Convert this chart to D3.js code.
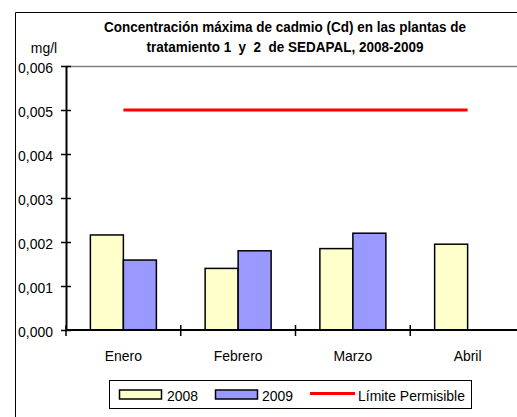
<!DOCTYPE html>
<html><head><meta charset="utf-8">
<script src="https://cdn.jsdelivr.net/npm/d3@7"></script>
<style>body{margin:0;background:#fff;} svg{display:block;} text{white-space:pre;}</style>
</head><body>
<svg id="c" width="517" height="417"></svg>
<script>
const categories = ["Enero", "Febrero", "Marzo", "Abril"];
const series2008 = [0.00216, 0.0014, 0.00185, 0.00195];
const series2009 = [0.00159, 0.0018, 0.0022, null];
const limite = [0.005, 0.005, 0.005, 0.005];
const yTicks = [0, 0.001, 0.002, 0.003, 0.004, 0.005, 0.006];
const seriesNames = ["2008", "2009", "Límite Permisible"];
const colors = {"2008": "#ffffcc", "2009": "#9999ff", lim: "#ff0000"};
const titleLines = ["Concentración máxima de cadmio (Cd) en las plantas de", "tratamiento 1  y  2  de SEDAPAL, 2008-2009"];

(function () {
const svg = d3.select("#c");
const font = "'Liberation Sans',Arial,sans-serif";
const pL = 66, pR = 525, pT = 66, pB = 330;
const K = 0.93;
function squeeze(sel) {
  sel.each(function () {
    const w = this.getComputedTextLength();
    d3.select(this).attr("textLength", w * K).attr("lengthAdjust", "spacingAndGlyphs");
  });
  return sel;
}

// outer border
svg.append("path").attr("d", "M15.5,417 V12.5 H517").attr("fill", "none").attr("stroke", "#000").attr("stroke-width", 1);

const x0 = d3.scaleBand().domain(categories).range([pL, pR]);
const y = d3.scaleLinear().domain([0, 0.006]).range([pB, pT]);

// top plot border (grey)
svg.append("line").attr("x1", pL).attr("x2", 517).attr("y1", pT + 0.5).attr("y2", pT + 0.5).attr("stroke", "#808080").attr("stroke-width", 1.5);

// bars
const bw = 33;
const g = svg.append("g");
categories.forEach((c, i) => {
  const cx = x0(c) + x0.bandwidth() / 2;
  if (series2008[i] != null) g.append("rect").attr("x", cx - bw).attr("y", y(series2008[i])).attr("width", bw).attr("height", y(0) - y(series2008[i])).attr("fill", colors["2008"]).attr("stroke", "#000").attr("stroke-width", 1.5);
  if (series2009[i] != null) g.append("rect").attr("x", cx).attr("y", y(series2009[i])).attr("width", bw).attr("height", y(0) - y(series2009[i])).attr("fill", colors["2009"]).attr("stroke", "#000").attr("stroke-width", 1.5);
});

// limit line
const line = d3.line().x((d, i) => x0(categories[i]) + x0.bandwidth() / 2).y(d => y(d));
svg.append("path").attr("d", line(limite)).attr("fill", "none").attr("stroke", colors.lim).attr("stroke-width", 3);

// y axis
const yAxis = d3.axisLeft(y).tickValues(yTicks).tickFormat(d => d3.format(".3f")(d).replace(".", ",")).tickSizeInner(5).tickSizeOuter(0).tickPadding(6);
const ya = svg.append("g").attr("transform", `translate(${pL},0)`).call(yAxis);
ya.select(".domain").attr("stroke-width", 2);
ya.selectAll(".tick line").attr("x2", 5).attr("x1", -5).attr("stroke-width", 1.5);
ya.selectAll("text").attr("font-family", font).attr("font-size", 15).attr("fill", "#000").attr("x", -13).attr("dy", null).attr("y", 6.5);
squeeze(ya.selectAll("text"));

// x axis
svg.append("line").attr("x1", pL).attr("x2", 517).attr("y1", pB).attr("y2", pB).attr("stroke", "#000").attr("stroke-width", 2);
categories.forEach(c => {
  const xx = x0(c);
  svg.append("line").attr("x1", xx).attr("x2", xx).attr("y1", pB - 5).attr("y2", pB + 6).attr("stroke", "#000").attr("stroke-width", 1.5);
  squeeze(svg.append("text").attr("x", xx + x0.bandwidth() / 2).attr("y", 361).attr("text-anchor", "middle").attr("font-family", font).attr("font-size", 15).text(c));
});

// title
titleLines.forEach((t, i) => {
  squeeze(svg.append("text").attr("x", 285).attr("y", 31.5 + i * 20.5).attr("text-anchor", "middle").attr("font-family", font).attr("font-weight", "bold").attr("font-size", 14.5).text(t));
});
squeeze(svg.append("text").attr("x", 44).attr("y", 53).attr("text-anchor", "middle").attr("font-family", font).attr("font-size", 15).text("mg/l"));

// legend
const lg = svg.append("g");
lg.append("rect").attr("x", 109.5).attr("y", 380.5).attr("width", 362).attr("height", 28).attr("fill", "#fff").attr("stroke", "#000").attr("stroke-width", 1);
lg.append("rect").attr("x", 119.5).attr("y", 390).attr("width", 42).attr("height", 9).attr("fill", colors["2008"]).attr("stroke", "#000").attr("stroke-width", 1.5);
squeeze(lg.append("text").attr("x", 167).attr("y", 400.5).attr("font-family", font).attr("font-size", 15).text(seriesNames[0]));
lg.append("rect").attr("x", 215.5).attr("y", 390).attr("width", 42).attr("height", 9).attr("fill", colors["2009"]).attr("stroke", "#000").attr("stroke-width", 1.5);
squeeze(lg.append("text").attr("x", 262).attr("y", 400.5).attr("font-family", font).attr("font-size", 15).text(seriesNames[1]));
lg.append("line").attr("x1", 310).attr("x2", 355).attr("y1", 393.5).attr("y2", 393.5).attr("stroke", colors.lim).attr("stroke-width", 3);
squeeze(lg.append("text").attr("x", 358).attr("y", 400.5).attr("font-family", font).attr("font-size", 15).text(seriesNames[2]));
})();
</script>
</body></html>
